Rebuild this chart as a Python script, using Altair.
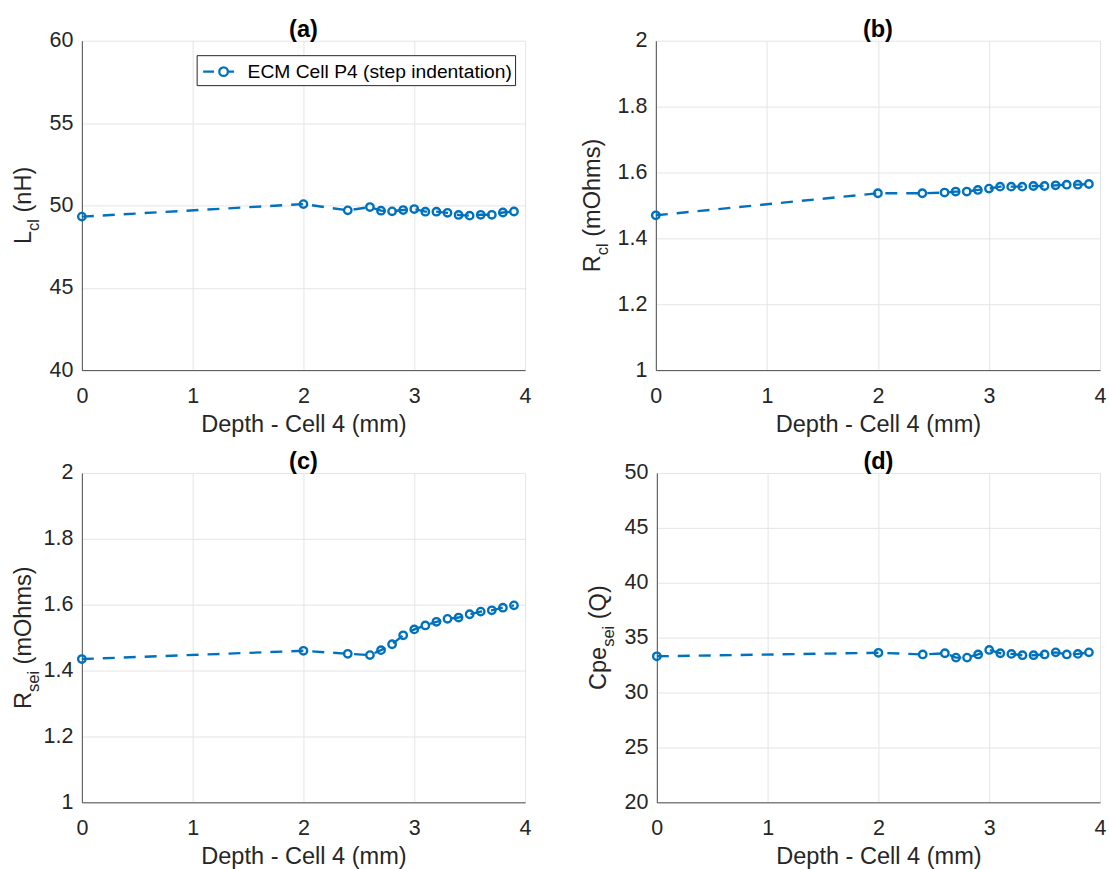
import altair as alt
import pandas as pd

# ---------------- data ----------------
depth = [0, 2, 2.4, 2.6, 2.7, 2.8, 2.9, 3.0, 3.1, 3.2, 3.3, 3.4, 3.5, 3.6, 3.7, 3.8, 3.9]
l_cl = [49.32, 50.08, 49.70, 49.90, 49.68, 49.64, 49.72, 49.78, 49.62, 49.62,
        49.55, 49.42, 49.38, 49.43, 49.43, 49.57, 49.63]
r_cl = [1.470, 1.537, 1.537, 1.539, 1.542, 1.542, 1.547, 1.551, 1.557, 1.557,
        1.557, 1.559, 1.559, 1.561, 1.563, 1.563, 1.565]
r_sei = [1.435, 1.460, 1.451, 1.447, 1.462, 1.480, 1.507, 1.525, 1.537, 1.548,
         1.557, 1.561, 1.571, 1.579, 1.583, 1.591, 1.598]
cpe_sei = [33.30, 33.62, 33.47, 33.58, 33.18, 33.18, 33.47, 33.88, 33.58, 33.52,
           33.40, 33.40, 33.47, 33.66, 33.47, 33.52, 33.66]

ticks_a = [40, 45, 50, 55, 60]
ticks_b = [1, 1.2, 1.4, 1.6, 1.8, 2]
ticks_c = [1, 1.2, 1.4, 1.6, 1.8, 2]
ticks_d = [20, 25, 30, 35, 40, 45, 50]
x_ticks = [0, 1, 2, 3, 4]

SERIES = "ECM Cell P4 (step indentation)"
X_TITLE = "Depth - Cell 4 (mm)"

BLUE = "#0072BD"
FONT = "Liberation Sans"
TXT = "#262626"
TICK_FS = 21.5
LAB_FS = 23.6
SUB_FS = 16.5

# Arial advance widths (em) for the y title pieces
ADV = {"L": 0.556, "R": 0.722, "C": 0.722, "p": 0.556, "e": 0.556, "c": 0.5,
       "l": 0.222, "s": 0.5, "i": 0.222, " ": 0.278, "(": 0.333, ")": 0.333,
       "n": 0.556, "H": 0.722, "m": 0.833, "O": 0.778, "h": 0.556, "Q": 0.778}


def tw(s, fs):
    return sum(ADV.get(ch, 0.556) for ch in s) * fs


# "- o -" legend glyph (unit = sqrt(size)/2 px)
LEGEND_PATH = ("M-0.83,0L0.08,0M0.515,0A0.36,0.36,0,1,0,1.235,0"
               "A0.36,0.36,0,1,0,0.515,0M1.235,0L1.75,0")


def ytitle(main, sub, rest, xoff, height):
    space = tw(" ", LAB_FS)
    total = tw(main, LAB_FS) + tw(sub, SUB_FS) + space + tw(rest, LAB_FS)
    y0 = height / 2 + total / 2
    pieces = [
        (main, LAB_FS, xoff, y0),
        (sub, SUB_FS, xoff + 8, y0 - tw(main, LAB_FS)),
        (rest, LAB_FS, xoff, y0 - tw(main, LAB_FS) - tw(sub, SUB_FS) - space),
    ]
    layers = []
    for txt, fs, px, py in pieces:
        layers.append(
            alt.Chart(pd.DataFrame({"t": [txt]}))
            .mark_text(angle=270, align="left", baseline="alphabetic",
                       font=FONT, fontSize=fs, color=TXT)
            .encode(x=alt.value(px), y=alt.value(py), text="t:N")
        )
    return layers


def panel(values, ticks, title, main, sub, rest, width, height, xoff, legend=False):
    df = pd.DataFrame({"depth": depth, "value": values, "series": SERIES})
    x = alt.X("depth:Q",
              scale=alt.Scale(domain=[0, 4], nice=False, zero=False),
              axis=alt.Axis(values=x_ticks, title=X_TITLE, format="~g"))
    y = alt.Y("value:Q",
              scale=alt.Scale(domain=[ticks[0], ticks[-1]], nice=False, zero=False),
              axis=alt.Axis(values=ticks, title=None, format="~g"))
    base = alt.Chart(df)
    line = base.mark_line(color=BLUE, strokeWidth=2.4, strokeDash=[12, 9]).encode(x=x, y=y)
    if legend:
        pts = base.mark_point(shape="circle", filled=False, size=55, strokeWidth=2.4,
                              opacity=1).encode(
            x=x, y=y,
            color=alt.Color("series:N", scale=alt.Scale(range=[BLUE]),
                            legend=alt.Legend(
                                title=None, orient="none", legendX=115, legendY=14.5,
                                symbolType=LEGEND_PATH, symbolSize=576,
                                symbolStrokeWidth=2.3, labelFont=FONT,
                                labelFontSize=19.3, labelColor="#000000",
                                labelLimit=500, labelOffset=21,
                                strokeColor="#262626", fillColor="#ffffff",
                                padding=3, cornerRadius=0)))
    else:
        pts = base.mark_point(shape="circle", filled=False, size=55, strokeWidth=2.4,
                              color=BLUE, opacity=1).encode(x=x, y=y)
    layers = [line, pts] + ytitle(main, sub, rest, xoff, height)
    return alt.layer(*layers).properties(
        width=width, height=height,
        title=alt.Title(title, font=FONT, fontSize=LAB_FS, fontWeight="bold",
                        color="#000000", offset=-12, frame="group", anchor="middle"))


pa = panel(l_cl, ticks_a, "(a)", "L", "cl", "(nH)", 444, 330, -51, legend=True)
pb = panel(r_cl, ticks_b, "(b)", "R", "cl", "(mOhms)", 445, 330, -56)
pc = panel(r_sei, ticks_c, "(c)", "R", "sei", "(mOhms)", 444, 330, -51)
pd_ = panel(cpe_sei, ticks_d, "(d)", "Cpe", "sei", "(Q)", 444, 330, -51)

row1 = alt.hconcat(pa, pb, spacing=131, bounds="flush")
row2 = alt.hconcat(pc, pd_, spacing=132, bounds="flush")

chart = (
    alt.vconcat(row1, row2, spacing=13)
    .properties(padding={"left": 12, "top": 17, "right": 4, "bottom": 4},
                background="white")
    .configure_view(stroke=None)
    .configure_axis(
        labelFont=FONT, labelFontSize=TICK_FS, labelColor=TXT,
        titleFont=FONT, titleFontSize=LAB_FS, titleColor=TXT,
        titleFontWeight="normal",
        domainColor="#4d4d4d", domainWidth=1,
        gridColor="#e4e4e4", gridWidth=1,
        ticks=False, tickSize=0, labelFlush=False,
    )
    .configure_axisX(labelPadding=15, titlePadding=6)
    .configure_axisY(labelPadding=9)
)

chart.save("out.html", embed_options={"renderer": "svg", "actions": False})
